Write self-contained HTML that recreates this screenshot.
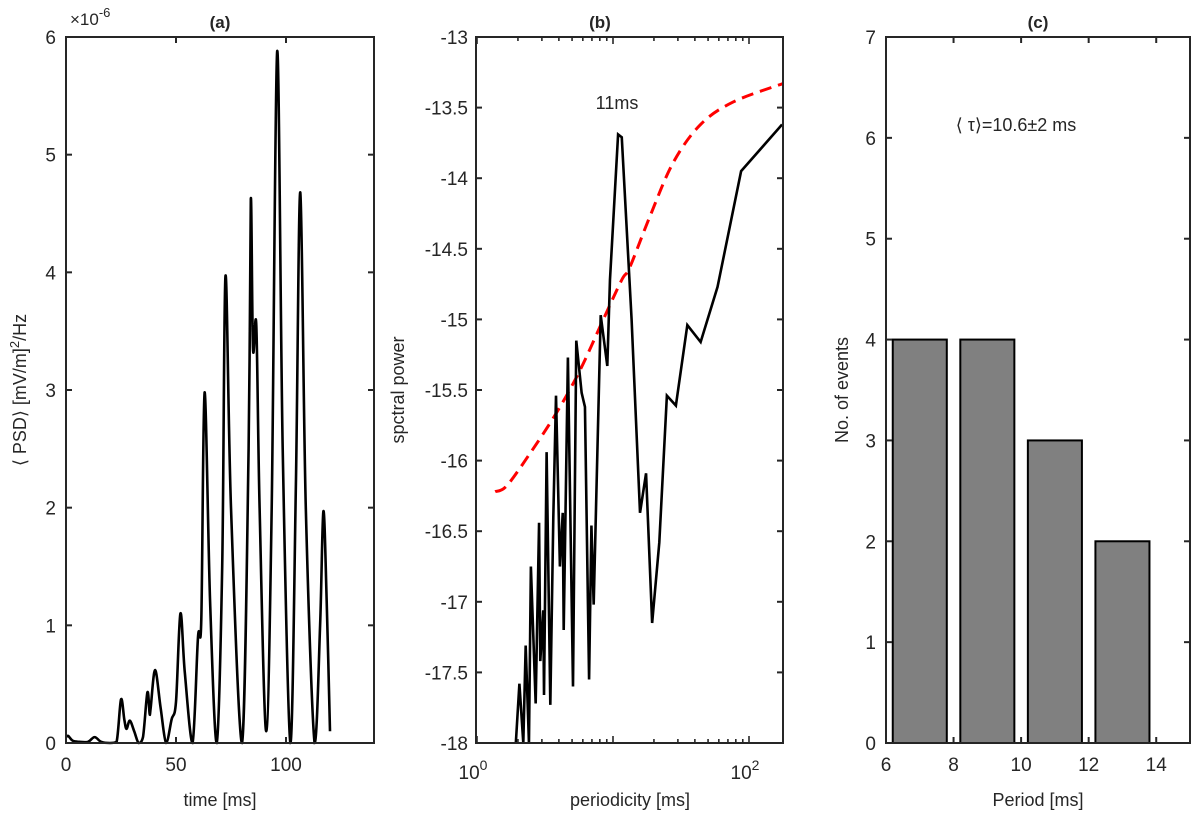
<!DOCTYPE html>
<html><head><meta charset="utf-8"><style>
body{margin:0;background:#fff;}
svg{display:block;font-family:"Liberation Sans",Arial,sans-serif;}
text{fill:#262626;}
</style></head><body>
<svg id="fig" width="1200" height="828" viewBox="0 0 1200 828"></svg>
<script>
// Panel (a) data
const aTime=[0,1,3,6,10,13,16,20,23,25,26.5,27.5,29,31,33,35,37,38,38.5,40.5,43,45.5,48,50,52,54,57.5,60,61.5,63,65.5,68.5,71,72.5,75,80,83,84,85,86.5,88,91,93.5,96,98.5,102,104.5,106.5,109,113,115.5,117,118.5,120];
const aPsd=[.05,.06,.02,.01,.01,.05,.01,0,.01,.37,.2,.12,.19,.1,0,.05,.43,.25,.3,.62,.3,0,.2,.35,1.1,.6,0,.9,1.05,2.98,1.2,0,1.5,3.97,2.0,0,2.5,4.62,3.35,3.55,2.0,0.1,2.0,5.88,2.5,0,2.2,4.68,2.0,0,1.0,1.97,1.2,0.1];
const aXTicks=[0,50,100];
const aYTicks=[0,1,2,3,4,5,6];
// Panel (b) data
const bPeriod=[1.93,2.05,2.19,2.28,2.41,2.49,2.70,2.86,2.92,3.07,3.11,3.25,3.46,3.64,3.81,4.07,4.27,4.34,4.66,5.08,5.37,5.88,6.22,6.67,6.94,7.21,8.12,9.08,9.5,10.9,11.6,13.7,15.8,17.5,19.4,21.9,24.9,29.0,35.2,44.1,58.7,87.5,175];
const bPower=[-18,-17.58,-18,-17.31,-18,-16.75,-17.72,-16.44,-17.42,-17.06,-17.66,-15.94,-17.73,-16.40,-15.54,-16.75,-16.37,-17.20,-15.27,-17.60,-15.15,-15.52,-15.62,-17.55,-16.46,-17.02,-14.97,-15.33,-14.72,-13.69,-13.71,-15.0,-16.37,-16.09,-17.15,-16.58,-15.54,-15.61,-15.04,-15.16,-14.77,-13.95,-13.62];
const bFitPeriod=[1.36,1.65,2.45,3.85,5.72,8.49,11.6,13.3,18.7,27.7,44,76.6,177];
const bFitPower=[-16.22,-16.18,-15.95,-15.66,-15.36,-15.0,-14.72,-14.63,-14.27,-13.89,-13.62,-13.46,-13.33];
const bYTicks=[-18,-17.5,-17,-16.5,-16,-15.5,-15,-14.5,-14,-13.5,-13];
// Panel (c) data
const cPeriods=[7,9,11,13];
const cCounts=[4,4,3,2];
const cXTicks=[6,8,10,12,14];
const cYTicks=[0,1,2,3,4,5,6,7];

const NS="http://www.w3.org/2000/svg";
const svg=document.getElementById('fig');
function mk(tag,attrs,parent){const e=document.createElementNS(NS,tag);for(const k in attrs)e.setAttribute(k,attrs[k]);(parent||svg).appendChild(e);return e;}
const T=37,B=743;
function lbl(x,y,s,anchor,size,name,extra){const t=mk('text',Object.assign({x:x,y:y,'text-anchor':anchor,'font-size':size},extra||{}));t.textContent=s;


return t;}

// ---- Panel a
const aL=66,aR=374;
const ax=t=>aL+(t-0)/140*(aR-aL);
const ay=v=>B-v/6*(B-T);
function smoothPath(xs,ys){let d='M'+xs[0]+','+ys[0];for(let i=0;i<xs.length-1;i++){const x0=xs[Math.max(i-1,0)],y0=ys[Math.max(i-1,0)],x1=xs[i],y1=ys[i],x2=xs[i+1],y2=ys[i+1],x3=xs[Math.min(i+2,xs.length-1)],y3=ys[Math.min(i+2,xs.length-1)];
let c1y=y1+(y2-y0)/6,c2y=y2-(y3-y1)/6;c1y=Math.min(c1y,B);c2y=Math.min(c2y,B);
d+=` C${x1+(x2-x0)/6},${c1y} ${x2-(x3-x1)/6},${c2y} ${x2},${y2}`;}return d;}
const ga=mk('g',{});
const pa=mk('path',{d:smoothPath(aTime.map(ax),aPsd.map(ay)),fill:'none',stroke:'#000','stroke-width':2.6},ga);

const fa=mk('rect',{x:aL,y:T,width:aR-aL,height:B-T,fill:'none',stroke:'#262626','stroke-width':2},ga);

aXTicks.forEach(t=>{mk('line',{x1:ax(t),x2:ax(t),y1:B,y2:B-6,stroke:'#262626','stroke-width':2},ga);mk('line',{x1:ax(t),x2:ax(t),y1:T,y2:T+6,stroke:'#262626','stroke-width':2},ga);lbl(ax(t),771,t,'middle',19,'x-tick-label-a');});
aYTicks.forEach(v=>{mk('line',{x1:aL,x2:aL+6,y1:ay(v),y2:ay(v),stroke:'#262626','stroke-width':2},ga);mk('line',{x1:aR,x2:aR-6,y1:ay(v),y2:ay(v),stroke:'#262626','stroke-width':2},ga);lbl(56,ay(v)+7,v,'end',19,'y-tick-label-a');});
const ex=lbl(70,25,'×10','start',17,'y-exponent-a');const es=mk('tspan',{dy:-8,'font-size':13},ex);es.textContent='-6';
lbl(220,28,'(a)','middle',17,'title-a',{'font-weight':'bold'});
lbl(220,806,'time [ms]','middle',18,'x-axis-title-a');
const ya=lbl(0,0,'⟨ PSD⟩ [mV/m]','middle',18,'y-axis-title-a',{transform:'translate(26,390) rotate(-90)'});
const s2=mk('tspan',{dy:-7,'font-size':13},ya);s2.textContent='2';const s3=mk('tspan',{dy:7},ya);s3.textContent='/Hz';

// ---- Panel b
const bL=476,bR=783;
const bx=p=>477+Math.log10(p)*136;
const by=v=>T+(-13-v)/5*(B-T);
const gb=mk('g',{});
const cp=mk('clipPath',{id:'cb'},gb);mk('rect',{x:bL,y:T,width:bR-bL,height:B-T},cp);
const fit=mk('path',{d:smoothPath(bFitPeriod.map(bx),bFitPower.map(by)),fill:'none',stroke:'#ff0000','stroke-width':3,'stroke-dasharray':'12,7','clip-path':'url(#cb)'},gb);

const sp=mk('polyline',{points:bPeriod.map((p,i)=>bx(p)+','+by(bPower[i])).join(' '),fill:'none',stroke:'#000','stroke-width':2.6,'clip-path':'url(#cb)'},gb);

const fb=mk('rect',{x:bL,y:T,width:bR-bL,height:B-T,fill:'none',stroke:'#262626','stroke-width':2},gb);

for(let dec=0;dec<3;dec++)for(let k=1;k<10;k++){const p=k*Math.pow(10,dec);const x=bx(p);if(x<bL||x>bR)continue;const len=k===1?7:4;mk('line',{x1:x,x2:x,y1:B,y2:B-len,stroke:'#262626','stroke-width':1.6},gb);mk('line',{x1:x,x2:x,y1:T,y2:T+len,stroke:'#262626','stroke-width':1.6},gb);}
[[1,'0'],[100,'2']].forEach(([p,e])=>{const t=lbl(bx(p)-4,779,'10','middle',19,'x-tick-label-b');const s=mk('tspan',{dy:-9,'font-size':14},t);s.textContent=e;});
bYTicks.forEach(v=>{mk('line',{x1:bL,x2:bL+6,y1:by(v),y2:by(v),stroke:'#262626','stroke-width':2},gb);mk('line',{x1:bR,x2:bR-6,y1:by(v),y2:by(v),stroke:'#262626','stroke-width':2},gb);lbl(468,by(v)+7,v,'end',19,'y-tick-label-b');});
lbl(600,28,'(b)','middle',17,'title-b',{'font-weight':'bold'});
lbl(617,109,'11ms','middle',18,'peak-annotation');
lbl(630,806,'periodicity [ms]','middle',18,'x-axis-title-b');
lbl(0,0,'spctral power','middle',18,'y-axis-title-b',{transform:'translate(404,390) rotate(-90)'});

// ---- Panel c
const cL=886,cR=1190;
const cx=p=>cL+(p-6)/9*(cR-cL);
const cy=v=>B-v/7*(B-T);
const gc=mk('g',{});
cPeriods.forEach((p,i)=>{const r=mk('rect',{x:cx(p-0.8),y:cy(cCounts[i]),width:cx(p+0.8)-cx(p-0.8),height:B-cy(cCounts[i]),fill:'#808080',stroke:'#000','stroke-width':2},gc);
});
const fc=mk('rect',{x:cL,y:T,width:cR-cL,height:B-T,fill:'none',stroke:'#262626','stroke-width':2},gc);

cXTicks.forEach(t=>{mk('line',{x1:cx(t),x2:cx(t),y1:B,y2:B-6,stroke:'#262626','stroke-width':2},gc);mk('line',{x1:cx(t),x2:cx(t),y1:T,y2:T+6,stroke:'#262626','stroke-width':2},gc);lbl(cx(t),771,t,'middle',19,'x-tick-label-c');});
cYTicks.forEach(v=>{mk('line',{x1:cL,x2:cL+6,y1:cy(v),y2:cy(v),stroke:'#262626','stroke-width':2},gc);mk('line',{x1:cR,x2:cR-6,y1:cy(v),y2:cy(v),stroke:'#262626','stroke-width':2},gc);lbl(876,cy(v)+7,v,'end',19,'y-tick-label-c');});
lbl(1038,28,'(c)','middle',17,'title-c',{'font-weight':'bold'});
lbl(1016,131,'⟨ τ⟩=10.6±2 ms','middle',18,'mean-period-annotation');
lbl(1038,806,'Period [ms]','middle',18,'x-axis-title-c');
lbl(0,0,'No. of events','middle',18,'y-axis-title-c',{transform:'translate(848,390) rotate(-90)'});
</script>
</body></html>
